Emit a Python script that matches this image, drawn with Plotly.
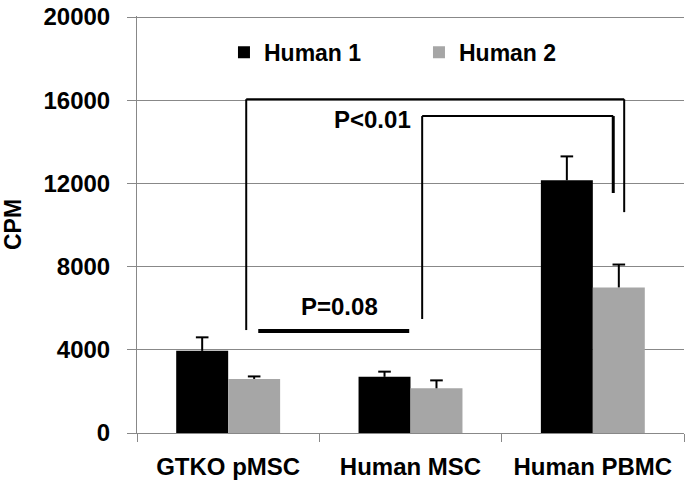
import plotly.graph_objects as go

categories = ["GTKO pMSC", "Human MSC", "Human PBMC"]
human1 = [3950, 2700, 12150]
human1_err = [650, 250, 1150]
human2 = [2600, 2150, 7000]
human2_err = [120, 380, 1100]
y_ticks = [0, 4000, 8000, 12000, 16000, 20000]

FONT = "Liberation Sans, Arial, sans-serif"
BARGAP = 0.43
W = (1 - BARGAP) / 2
xpos = list(range(len(categories)))

fig = go.Figure()
series = [("Human 1", human1, human1_err, "#000000", -W),
          ("Human 2", human2, human2_err, "#A6A6A6", 0.0)]
for name, vals, errs, col, off in series:
    fig.add_trace(go.Bar(
        name=f"<b>{name}</b>", x=xpos, y=vals, width=W, offset=off,
        marker_color=col, marker_line_width=0,
    ))
for name, vals, errs, col, off in series:
    fig.add_trace(go.Scatter(
        x=[i + off + W / 2 for i in xpos], y=[v + e for v, e in zip(vals, errs)],
        mode="markers", showlegend=False, hoverinfo="skip",
        marker=dict(symbol="line-ew", size=9, line=dict(color="#000000", width=2)),
        error_y=dict(type="data", array=[0] * len(vals), arrayminus=errs, symmetric=False,
                     color="#000000", thickness=2, width=0),
    ))

line = dict(color="#000000", width=2)
shapes = [
    dict(type="line", xref="x", yref="y", x0=0.099, x1=0.099, y0=4950, y1=16050, line=line),
    dict(type="line", xref="x", yref="y", x0=0.099, x1=2.172, y0=16050, y1=16050, line=line),
    dict(type="line", xref="x", yref="y", x0=2.172, x1=2.172, y0=16050, y1=10620, line=line),
    dict(type="line", xref="x", yref="y", x0=1.064, x1=1.064, y0=5480, y1=15240, line=line),
    dict(type="line", xref="x", yref="y", x0=1.064, x1=2.112, y0=15240, y1=15240, line=line),
    dict(type="line", xref="x", yref="y", x0=2.112, x1=2.112, y0=15240, y1=11540,
         line=dict(color="#000000", width=3)),
    dict(type="line", xref="x", yref="y", x0=0.165, x1=0.993, y0=4900, y1=4900,
         line=dict(color="#000000", width=4)),
]

annotations = [
    dict(text="<b>P=0.08</b>", x=0.612, y=6100, xref="x", yref="y", showarrow=False,
         font=dict(family=FONT, size=24, color="#000000")),
    dict(text="<b>P<0.01</b>", x=0.79, y=15050, xref="x", yref="y", showarrow=False,
         font=dict(family=FONT, size=24, color="#000000")),
]

fig.update_layout(
    width=691, height=487,
    margin=dict(l=137, r=7, t=16, b=54),
    paper_bgcolor="#FFFFFF", plot_bgcolor="#FFFFFF",
    barmode="overlay",
    font=dict(family=FONT, size=24, color="#000000"),
    shapes=shapes, annotations=annotations,
    legend=dict(orientation="h", x=0.159, y=0.913, xanchor="left", yanchor="middle",
                font=dict(family=FONT, size=23, color="#000000"),
                bgcolor="rgba(0,0,0,0)", entrywidth=150, entrywidthmode="pixels"),
    xaxis=dict(range=[-0.5, 2.5], tickvals=xpos, ticktext=[f"<b>{c}</b>" for c in categories],
               showline=True, linecolor="#888888", linewidth=1, ticks="",
               showgrid=False, zeroline=False, automargin=False,
               minor=dict(tickvals=[-0.5, 0.5, 1.5, 2.5], ticks="outside", ticklen=8,
                          tickcolor="#888888", showgrid=False),
               tickfont=dict(family=FONT, size=24, color="#000000"), ticklabelstandoff=12),
    yaxis=dict(range=[0, 20050], tickvals=y_ticks, ticktext=[f"<b>{v}</b>" for v in y_ticks],
               showgrid=True, gridcolor="#888888", gridwidth=1,
               showline=True, linecolor="#888888", linewidth=1,
               ticks="outside", ticklen=9, tickcolor="#888888",
               tickfont=dict(family=FONT, size=24, color="#000000"),
               zeroline=False, automargin=False, ticklabelstandoff=12,
               title=dict(text="<b>CPM</b>", font=dict(family=FONT, size=23, color="#000000"),
                          standoff=21)),
)

fig.write_html("out.html", config={"displayModeBar": False},
               post_script="document.body.style.margin='0px';")
